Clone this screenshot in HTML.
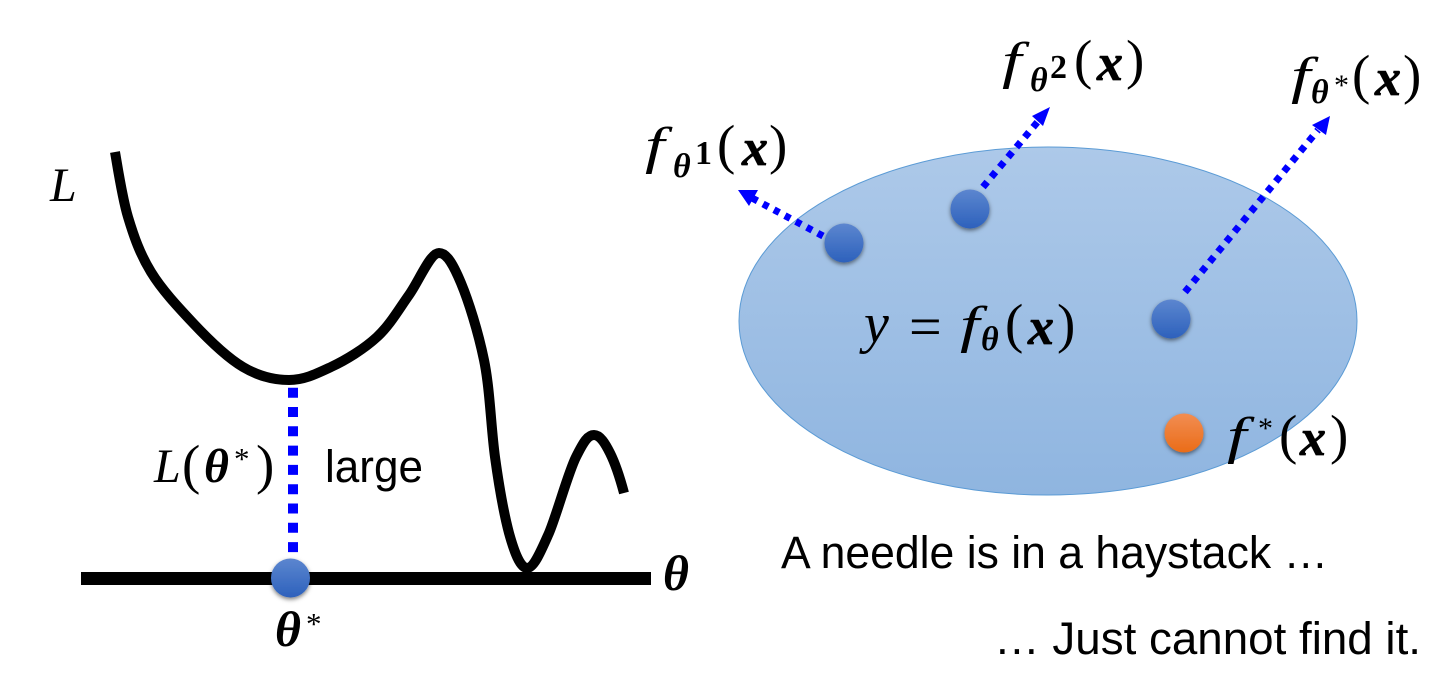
<!DOCTYPE html>
<html><head><meta charset="utf-8"><style>
html,body{margin:0;padding:0;background:#fff}
svg{display:block}
text{fill:#000}
.m{font-family:"Liberation Serif",serif}
.i{font-style:italic}
.b{font-weight:bold;font-style:italic}
.x{font-weight:bold;font-style:italic;stroke:#000;stroke-width:.7}
.s{font-family:"Liberation Sans",sans-serif}
</style></head><body>
<svg xmlns="http://www.w3.org/2000/svg" width="1451" height="689" viewBox="0 0 1451 689">
<defs>
<linearGradient id="e" x1="0" y1="0" x2="0" y2="1"><stop offset="0" stop-color="#adc9e9"/><stop offset="1" stop-color="#8fb5e0"/></linearGradient>
<linearGradient id="bd" x1="0" y1="0" x2="0" y2="1"><stop offset="0" stop-color="#5c86cf"/><stop offset="1" stop-color="#2d61bc"/></linearGradient>
<linearGradient id="od" x1="0" y1="0" x2="0" y2="1"><stop offset="0" stop-color="#f28d52"/><stop offset="1" stop-color="#ea6c18"/></linearGradient>
<filter id="sh" x="-30%" y="-30%" width="160%" height="170%"><feDropShadow dx="0" dy="2" stdDeviation="2" flood-color="#000" flood-opacity=".5"/></filter>
</defs>

<ellipse cx="1048" cy="321" rx="309" ry="174" fill="url(#e)" stroke="#5b9bd5" stroke-width="1"/>

<path fill="none" stroke="#000" stroke-width="10" d="M115,152 C117,163 122,197 128,217 C134,237 140,254 151,272 C162,290 178,307 193,323 C208,339 227,357.500 243,367 C259,376.500 274,380 289,380 C304,380 316,374 331,367 C346,360 364,349 377,337 C390,325 399,309 409,295 C419,281 430,253 439,253 C447,253 453.500,265 461,283 C468.500,301 478,331 484,360 C490,389 491,428 495,457 C499,486 504,514 509,533 C514,551 520,568 527,568 C534,568 541,551 549,533 C557,514 568,473 576,457 C584,441 588,435 594,435 C600,435 605,443 610,453 C615,463 620,478 624,493"/>
<rect x="81" y="572" width="570" height="13" fill="#000"/>
<line x1="293" y1="387.700" x2="293" y2="562" stroke="#0000ff" stroke-width="10" stroke-dasharray="10 9.300"/>
<circle cx="290.500" cy="578" r="19.500" fill="url(#bd)" filter="url(#sh)"/>

<line x1="823" y1="236" x2="752" y2="198" stroke="#0000ff" stroke-width="7" stroke-dasharray="6 6.400"/>
<polygon points="738,190 758,190 749,206" fill="#0000ff"/>
<line x1="983" y1="187" x2="1040" y2="119" stroke="#0000ff" stroke-width="7" stroke-dasharray="6.500 6.500"/>
<polygon points="1050,107 1043,126 1032,116" fill="#0000ff"/>
<line x1="1185" y1="292" x2="1318" y2="130" stroke="#0000ff" stroke-width="7" stroke-dasharray="6.500 6.500"/>
<polygon points="1330,116 1326,135 1312,125" fill="#0000ff"/>

<circle cx="844" cy="243" r="19.500" fill="url(#bd)" filter="url(#sh)"/>
<circle cx="970" cy="209" r="19.500" fill="url(#bd)" filter="url(#sh)"/>
<circle cx="1171" cy="319" r="19.500" fill="url(#bd)" filter="url(#sh)"/>
<circle cx="1184" cy="433" r="19.500" fill="url(#od)" filter="url(#sh)"/>

<g class="m">
<text class="i" x="50" y="201" font-size="48">L</text>

<text class="i" x="154" y="482" font-size="48">L</text>
<text x="182" y="483" font-size="55">(</text>
<text class="b" x="204" y="482" font-size="48">θ</text>
<text x="234" y="469" font-size="31">*</text>
<text x="256" y="483" font-size="55">)</text>

<text class="b" x="275" y="646" font-size="50">θ</text>
<text x="306" y="634" font-size="31">*</text>
<text class="b" x="663" y="590" font-size="50">θ</text>

<text class="i" transform="translate(645,163) scale(1.350,1)" font-size="52">f</text>
<text class="b" x="673" y="177" font-size="34">θ</text>
<text x="695" y="164" font-size="34" font-weight="bold">1</text>
<text x="717" y="163" font-size="55">(</text>
<text class="x" x="742" y="165" font-size="52">x</text>
<text x="769" y="163" font-size="55">)</text>

<text class="i" transform="translate(1002,78) scale(1.350,1)" font-size="52">f</text>
<text class="b" x="1030" y="91" font-size="34">θ</text>
<text x="1050" y="78" font-size="34" font-weight="bold">2</text>
<text x="1074" y="78" font-size="55">(</text>
<text class="x" x="1097" y="80" font-size="52">x</text>
<text x="1126" y="78" font-size="55">)</text>

<text class="i" transform="translate(1291,93) scale(1.350,1)" font-size="52">f</text>
<text class="b" x="1311" y="103" font-size="34">θ</text>
<text x="1334" y="95" font-size="30">*</text>
<text x="1352" y="93" font-size="55">(</text>
<text class="x" x="1375" y="95" font-size="52">x</text>
<text x="1403" y="93" font-size="55">)</text>

<text class="i" x="864" y="342" font-size="56">y</text>
<text x="909" y="346" font-size="58">=</text>
<text class="i" transform="translate(960,342) scale(1.350,1)" font-size="52">f</text>
<text class="b" x="981" y="350" font-size="34">θ</text>
<text x="1005" y="342" font-size="55">(</text>
<text class="x" x="1028" y="344" font-size="52">x</text>
<text x="1057" y="342" font-size="55">)</text>

<text class="i" transform="translate(1227,453) scale(1.350,1)" font-size="52">f</text>
<text x="1258" y="438" font-size="30">*</text>
<text x="1279" y="453" font-size="55">(</text>
<text class="x" x="1300" y="455" font-size="52">x</text>
<text x="1330" y="453" font-size="55">)</text>
</g>

<g class="s" font-size="45">
<text x="325" y="482" textLength="98" lengthAdjust="spacingAndGlyphs">large</text>
<text x="781" y="568" textLength="547" lengthAdjust="spacingAndGlyphs">A needle is in a haystack …</text>
<text x="994" y="654" textLength="427" lengthAdjust="spacingAndGlyphs">… Just cannot find it.</text>
</g>
</svg>
</body></html>
